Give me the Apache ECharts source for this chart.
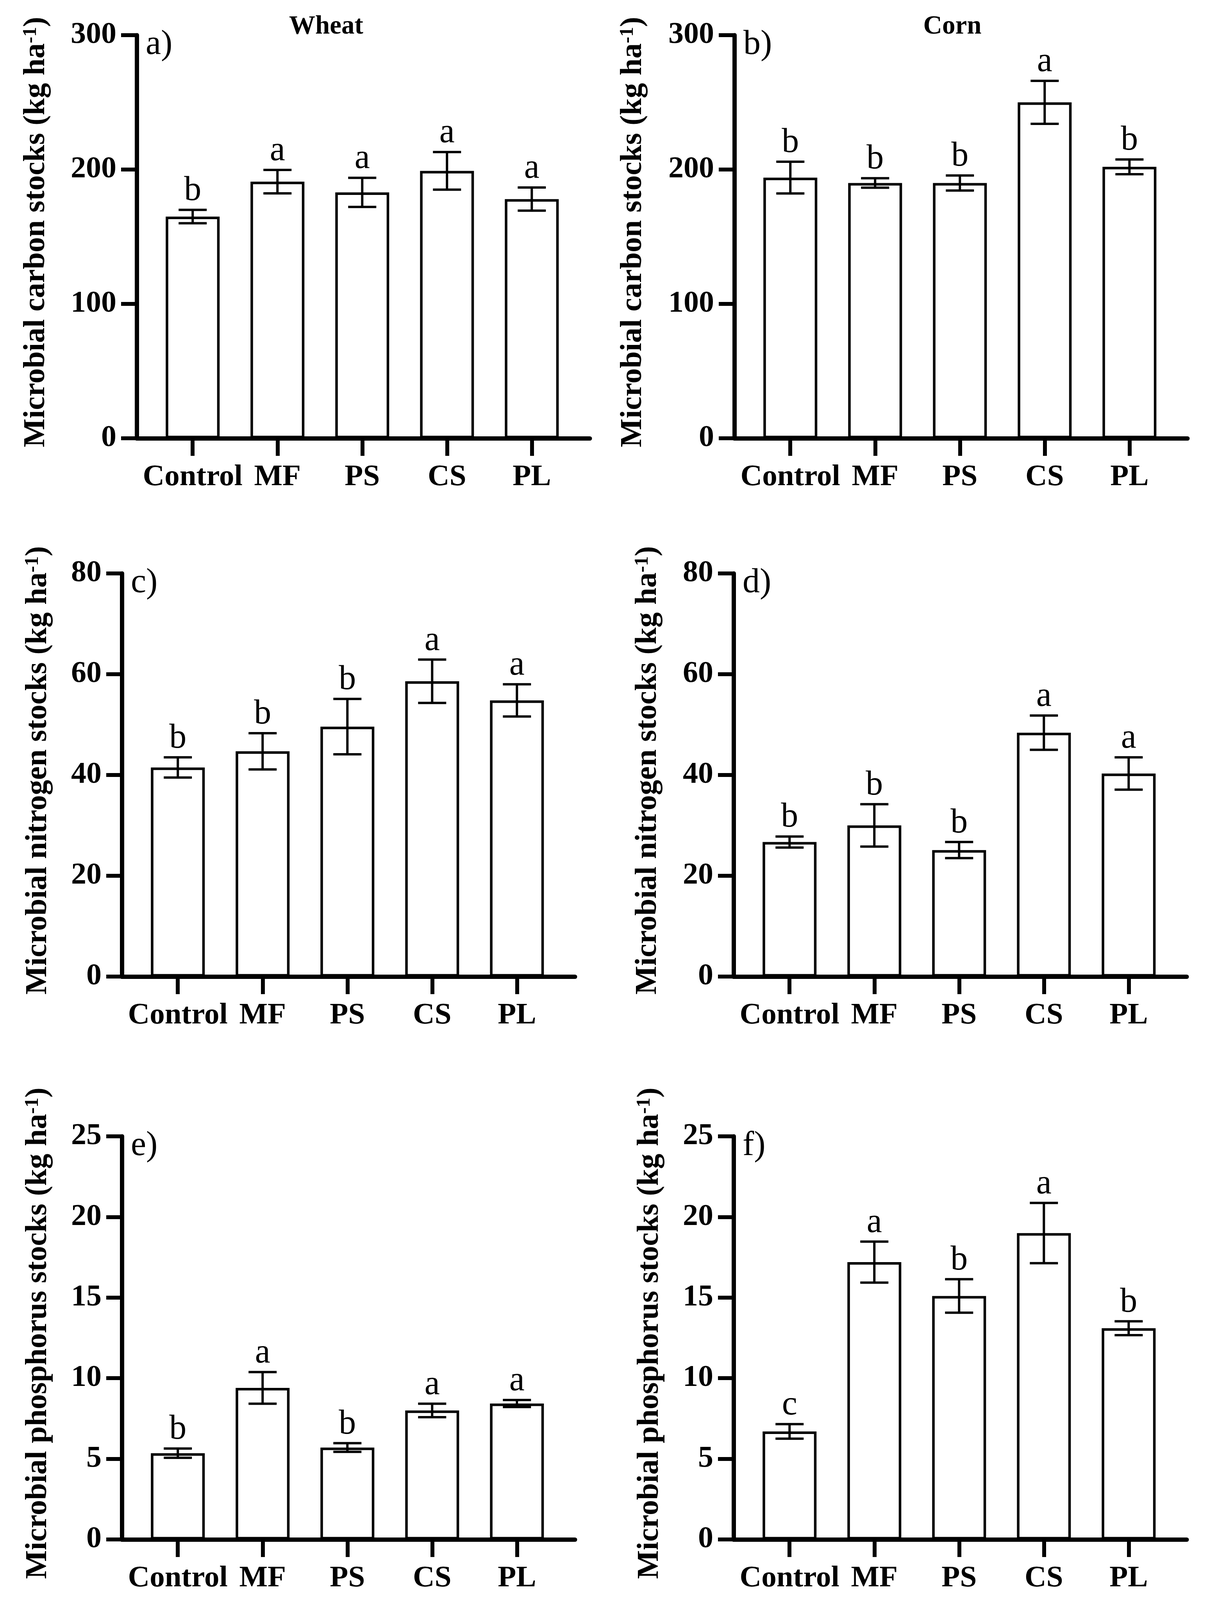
<!DOCTYPE html>
<html>
<head>
<meta charset="utf-8">
<script src="https://cdn.jsdelivr.net/npm/echarts@6/dist/echarts.min.js"></script>
<style>
html,body{margin:0;padding:0;background:#fff;}
#chart{width:3095px;height:4123px;}
</style>
</head>
<body>
<div id="chart"></div>
<script>
// ---- data ----
const categories = ['Control', 'MF', 'PS', 'CS', 'PL'];

const wheatCarbon = [165, 191, 183, 199, 178];
const wheatCarbonErr = [5, 8.7, 10.8, 14, 8.6];
const wheatCarbonLetters = ['b', 'a', 'a', 'a', 'a'];

const cornCarbon = [194, 190, 190, 250, 202];
const cornCarbonErr = [11.8, 3.5, 5.6, 16, 5.5];
const cornCarbonLetters = ['b', 'b', 'b', 'a', 'b'];

const wheatNitrogen = [41.5, 44.7, 49.6, 58.6, 54.8];
const wheatNitrogenErr = [2, 3.6, 5.5, 4.3, 3.2];
const wheatNitrogenLetters = ['b', 'b', 'b', 'a', 'a'];

const cornNitrogen = [26.7, 30, 25.1, 48.4, 40.3];
const cornNitrogenErr = [1.1, 4.2, 1.6, 3.4, 3.2];
const cornNitrogenLetters = ['b', 'b', 'b', 'a', 'a'];

const wheatPhosphorus = [5.35, 9.4, 5.7, 8.0, 8.43];
const wheatPhosphorusErr = [0.29, 0.98, 0.27, 0.42, 0.22];
const wheatPhosphorusLetters = ['b', 'a', 'b', 'a', 'a'];

const cornPhosphorus = [6.7, 17.2, 15.1, 19.0, 13.1];
const cornPhosphorusErr = [0.45, 1.27, 1.04, 1.87, 0.43];
const cornPhosphorusLetters = ['c', 'a', 'b', 'a', 'b'];

const columnTitles = ['Wheat', 'Corn'];
const panelLetters = ['a)', 'b)', 'c)', 'd)', 'e)', 'f)'];
const yTitles = ['Microbial carbon stocks', 'Microbial nitrogen stocks', 'Microbial phosphorus stocks'];
const yMax = [300, 80, 25];
const yInterval = [100, 20, 5];

// ---- layout ----
const serif = 'Liberation Serif';
const panels = [
  {vals: wheatCarbon, err: wheatCarbonErr, let: wheatCarbonLetters, row: 0, left: 350, top: 90, h: 1032, gap: 218},
  {vals: cornCarbon, err: cornCarbonErr, let: cornCarbonLetters, row: 0, left: 1880, top: 90, h: 1032, gap: 220},
  {vals: wheatNitrogen, err: wheatNitrogenErr, let: wheatNitrogenLetters, row: 1, left: 312, top: 1468, h: 1032, gap: 175},
  {vals: cornNitrogen, err: cornNitrogenErr, let: cornNitrogenLetters, row: 1, left: 1878, top: 1468, h: 1032, gap: 180},
  {vals: wheatPhosphorus, err: wheatPhosphorusErr, let: wheatPhosphorusLetters, row: 2, left: 312, top: 2909, h: 1032, gap: 175},
  {vals: cornPhosphorus, err: cornPhosphorusErr, let: cornPhosphorusLetters, row: 2, left: 1878, top: 2909, h: 1032, gap: 175}
];
const plotWidth = 1160;
const xMin = -0.66, xMax = 4.685;

const grid = [], xAxis = [], yAxis = [], series = [], title = [];

panels.forEach((p, k) => {
  grid.push({left: p.left, top: p.top, width: plotWidth, height: p.h, containLabel: false});
  xAxis.push({
    type: 'value', gridIndex: k, min: xMin, max: xMax,
    splitLine: {show: false},
    axisLine: {show: true, onZero: false, lineStyle: {color: '#000', width: 11}},
    axisTick: {show: true, customValues: [0, 1, 2, 3, 4], length: 45, lineStyle: {color: '#000', width: 10}},
    axisLabel: {
      show: true, customValues: [0, 1, 2, 3, 4], margin: 62,
      formatter: v => categories[Math.round(v)] || '',
      color: '#000', fontFamily: serif, fontWeight: 'bold', fontSize: 77
    }
  });
  yAxis.push({
    type: 'value', gridIndex: k, min: 0, max: yMax[p.row], interval: yInterval[p.row],
    splitLine: {show: false},
    axisLine: {show: true, onZero: false, lineStyle: {color: '#000', width: 11}},
    axisTick: {show: true, length: 40, lineStyle: {color: '#000', width: 10}},
    axisLabel: {color: '#000', fontFamily: serif, fontWeight: 'bold', fontSize: 78, margin: 52},
    name: '{t|' + yTitles[p.row] + ' (kg ha}{s|-1}{t|)}',
    nameLocation: 'middle', nameGap: p.gap, nameRotate: 90,
    nameTextStyle: {
      color: '#000',
      padding: [0, 0, 0, 24],
      rich: {
        t: {fontFamily: serif, fontWeight: 'bold', fontSize: 78, color: '#000', verticalAlign: 'bottom'},
        s: {fontFamily: serif, fontWeight: 'bold', fontSize: 50, color: '#000', verticalAlign: 'top', padding: [0, 0, 28, 0]}
      }
    }
  });
  series.push({
    type: 'bar', xAxisIndex: k, yAxisIndex: k,
    data: p.vals.map((v, i) => [i, v]),
    barWidth: 138,
    itemStyle: {color: '#fff', borderColor: '#000', borderWidth: 6.5},
    silent: true, z: 2
  });
  const letters = p.let;
  series.push({
    type: 'custom', xAxisIndex: k, yAxisIndex: k, z: 5, silent: true,
    data: p.vals.map((v, i) => [i, v, p.err[i]]),
    encode: {x: 0, y: 1},
    renderItem: function (params, api) {
      const i = api.value(0), v = api.value(1), e = api.value(2);
      const tp = api.coord([i, v + e]);
      const bt = api.coord([i, v - e]);
      const half = 36;
      const st = {stroke: '#000', lineWidth: 6};
      return {
        type: 'group',
        children: [
          {type: 'line', shape: {x1: tp[0], y1: tp[1], x2: bt[0], y2: bt[1]}, style: st},
          {type: 'line', shape: {x1: tp[0] - half, y1: tp[1], x2: tp[0] + half, y2: tp[1]}, style: st},
          {type: 'line', shape: {x1: bt[0] - half, y1: bt[1], x2: bt[0] + half, y2: bt[1]}, style: st},
          {type: 'text', style: {
            text: letters[params.dataIndex], x: tp[0], y: tp[1] - 4,
            align: 'center', verticalAlign: 'bottom',
            fontFamily: serif, fontSize: 88, fill: '#000'
          }}
        ]
      };
    }
  });
  title.push({
    text: panelLetters[k], left: p.left + 18, top: p.top - 24,
    textStyle: {fontFamily: serif, fontWeight: 'normal', fontSize: 88, color: '#000'}
  });
});

title.push({text: columnTitles[0], left: 830, top: 30, textAlign: 'center',
  textStyle: {fontFamily: serif, fontWeight: 'bold', fontSize: 67, color: '#000'}});
title.push({text: columnTitles[1], left: 2433, top: 30, textAlign: 'center',
  textStyle: {fontFamily: serif, fontWeight: 'bold', fontSize: 67, color: '#000'}});

const chart = echarts.init(document.getElementById('chart'), null, {renderer: 'canvas'});
chart.setOption({
  backgroundColor: '#fff',
  animation: false,
  title: title,
  grid: grid,
  xAxis: xAxis,
  yAxis: yAxis,
  series: series
});
</script>
</body>
</html>
